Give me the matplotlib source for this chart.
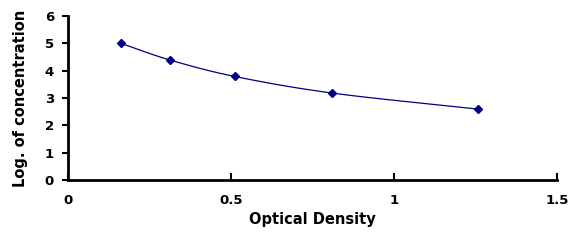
import numpy as np
import matplotlib
matplotlib.use("Agg")
import matplotlib.pyplot as plt

# standard curve data
od = [0.162, 0.313, 0.511, 0.811, 1.259]
log_conc = [5.0, 4.39, 3.79, 3.18, 2.59]
x_ticks = [0, 0.5, 1, 1.5]
x_tick_labels = ["0", "0.5", "1", "1.5"]
y_ticks = [0, 1, 2, 3, 4, 5, 6]

plt.rcParams['font.family'] = ['DejaVu Sans']
plt.rcParams['font.weight'] = 'bold'


def smooth(x, y, n=30):
    # Catmull-Rom style smoothing, similar to the spreadsheet smoothed line
    x = np.asarray(x, float)
    y = np.asarray(y, float)
    px = np.concatenate([[2 * x[0] - x[1]], x, [2 * x[-1] - x[-2]]])
    py = np.concatenate([[2 * y[0] - y[1]], y, [2 * y[-1] - y[-2]]])
    xs, ys = [], []
    t = np.linspace(0, 1, n)
    for i in range(1, len(px) - 2):
        p0, p1, p2, p3 = px[i - 1], px[i], px[i + 1], px[i + 2]
        q0, q1, q2, q3 = py[i - 1], py[i], py[i + 1], py[i + 2]
        b1x = p1 + (p2 - p0) / 6
        b2x = p2 - (p3 - p1) / 6
        b1y = q1 + (q2 - q0) / 6
        b2y = q2 - (q3 - q1) / 6
        xs.append((1 - t) ** 3 * p1 + 3 * (1 - t) ** 2 * t * b1x + 3 * (1 - t) * t ** 2 * b2x + t ** 3 * p2)
        ys.append((1 - t) ** 3 * q1 + 3 * (1 - t) ** 2 * t * b1y + 3 * (1 - t) * t ** 2 * b2y + t ** 3 * q2)
    return np.concatenate(xs), np.concatenate(ys)


fig = plt.figure(figsize=(5.86, 2.42), dpi=100)
ax = fig.add_axes([68 / 586, 62 / 242, (557 - 68) / 586, (180 - 16) / 242])

sx, sy = smooth(od, log_conc)
ax.plot(sx, sy, color='#000080', lw=0.9)
ax.plot(od, log_conc, linestyle='none', marker='D', markersize=4, color='#000080')

ax.set_xlim(0, 1.5)
ax.set_ylim(0, 6)
ax.set_xticks(x_ticks)
ax.set_xticklabels(x_tick_labels)
ax.set_yticks(y_ticks)
ax.spines['top'].set_visible(False)
ax.spines['right'].set_visible(False)
ax.spines['left'].set_linewidth(2)
ax.spines['bottom'].set_linewidth(2)
ax.tick_params(axis='x', direction='in', length=5, width=1.5, labelsize=9.5, pad=10)
ax.tick_params(axis='y', direction='out', length=4, width=1.5, labelsize=9.5, pad=6)
ax.set_xlabel('Optical Density', fontsize=10.5, fontweight='bold', labelpad=4)
ax.set_ylabel('Log. of concentration', fontsize=10.5, fontweight='bold', labelpad=12)

fig.savefig('out.png', dpi=100)
